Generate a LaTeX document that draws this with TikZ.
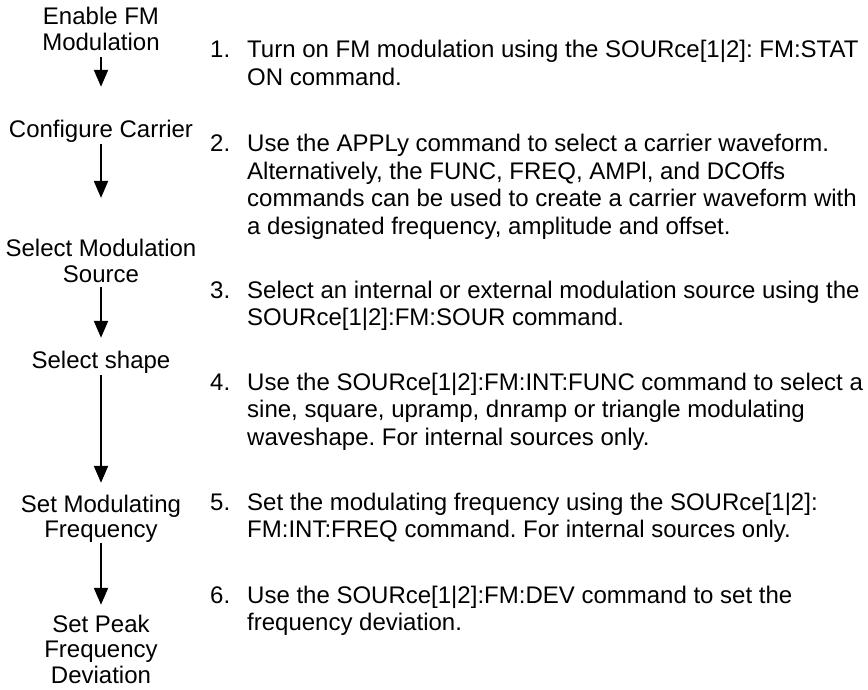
\documentclass[tikz,border=0pt]{standalone}
\usepackage{fontspec}
\setmainfont{Liberation Sans}
\usetikzlibrary{arrows.meta,positioning}
\frenchspacing

\begin{document}
\begin{tikzpicture}[x=1pt,y=-1pt,>={Triangle[length=17pt,width=14pt]},
  font=\fontsize{24}{25.5}\selectfont,
  stage/.style={inner sep=0pt,text width=200pt,align=flush center,anchor=base},
  note/.style={inner sep=0pt,text width=640pt,align=flush left,anchor=base west,font=\fontsize{24}{27.5}\selectfont},
  flow/.style={->,line width=2pt}]
\useasboundingbox (0,0) rectangle (868,690);
% left column: the steps
\node[stage] (s1) at (101,25) {Enable FM\\Modulation};
\node[stage] (s2) at (101,138) {Configure Carrier};
\node[stage] (s3) at (101,256.5) {Select Modulation\\Source};
\node[stage] (s4) at (101,368) {Select shape};
\node[stage] (s5) at (101,512) {Set Modulating\\Frequency};
\node[stage] (s6) at (101,632) {Set Peak\\Frequency\\Deviation};
\foreach \a/\b/\s/\e in {s1/s2/6.5/33.6,s2/s3/1/41,s3/s4/5/12.6,s4/s5/2/11.6,s5/s6/0/9.6}
  \draw[flow,shorten <=\s pt,shorten >=\e pt] (\a.south) -- (\b.north);
% right column: numbered notes
\foreach \n/\y/\txt in {
  1/58/{Turn on FM modulation using the SOURce[1|2]: FM:STAT\\ON command.},
  2/152/{Use the APPLy command to select a carrier waveform.\\Alternatively, the FUNC, FREQ, AMPl, and DCOffs\\commands can be used to create a carrier waveform with\\a designated frequency, amplitude and offset.},
  3/298/{Select an internal or external modulation source using the\\SOURce[1|2]:FM:SOUR command.},
  4/390/{Use the SOURce[1|2]:FM:INT:FUNC command to select a\\sine, square, upramp, dnramp or triangle modulating\\waveshape. For internal sources only.},
  5/510/{Set the modulating frequency using the SOURce[1|2]:\\FM:INT:FREQ command. For internal sources only.},
  6/603/{Use the SOURce[1|2]:FM:DEV command to set the\\frequency deviation.}}{
  \node[note] (t\n) at (247,\y) {\txt};
  \node[note,text width=30pt] (n\n) at (210,\y) {\n.};
}
\end{tikzpicture}
\end{document}
